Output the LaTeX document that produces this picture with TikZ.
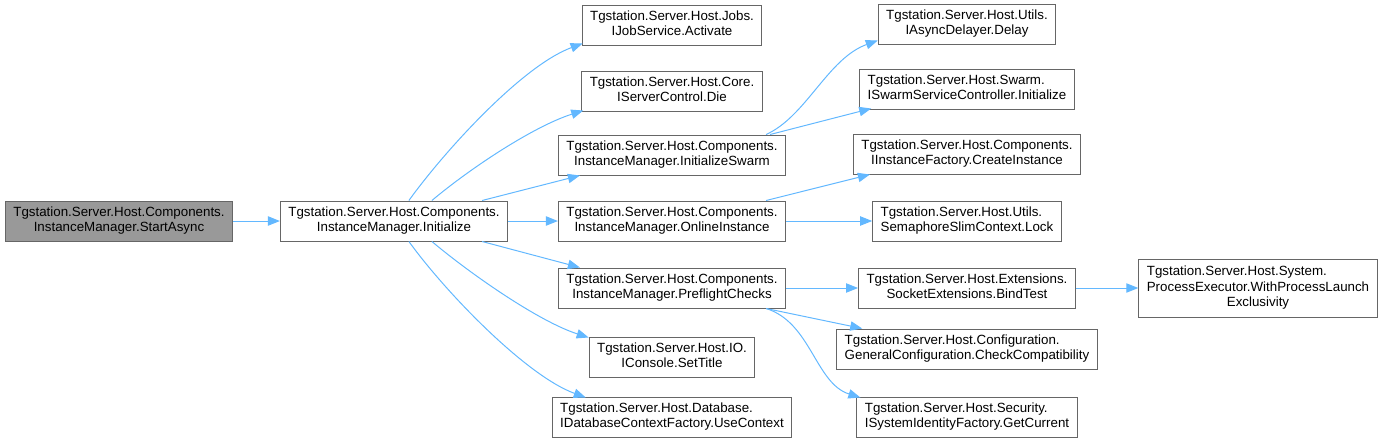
\documentclass[tikz,border=0pt]{standalone}
\usepackage{fontspec}
\setmainfont{Liberation Sans}
\usetikzlibrary{arrows.meta,calc}
\definecolor{edgeblue}{HTML}{63B8FF}
\definecolor{boxgray}{HTML}{666666}
\definecolor{startgray}{HTML}{999999}
\newcommand{\twol}[2]{\begin{tabular}{@{}c@{}}\multicolumn{1}{@{}l@{}}{#1}\\#2\end{tabular}}
\newcommand{\threel}[3]{\begin{tabular}{@{}c@{}}\multicolumn{1}{@{}l@{}}{#1}\\\multicolumn{1}{@{}l@{}}{#2}\\#3\end{tabular}}
\tikzset{
  box/.style={draw=boxgray, fill=white, line width=0.75pt, inner xsep=6pt, inner ysep=0pt,
    minimum height=30pt, font=\fontsize{10}{11.5}\selectfont},
  edge/.style={draw=edgeblue, line width=0.75pt, -{Triangle[length=9pt,width=7pt]}}
}
\begin{document}
\begin{tikzpicture}[x=0.75pt,y=-0.75pt]
\useasboundingbox (0,0) rectangle (1388,443);
% column 0 and 1
\node[box, fill=startgray] (sa) at (119,221) {\twol{Tgstation.Server.Host.Components.}{InstanceManager.StartAsync}};
\node[box] (ini) at (394,221) {\twol{Tgstation.Server.Host.Components.}{InstanceManager.Initialize}};
% column 2
\node[box] (act) at (672,25) {\twol{Tgstation.Server.Host.Jobs.}{IJobService.Activate}};
\node[box] (die) at (672,91) {\twol{Tgstation.Server.Host.Core.}{IServerControl.Die}};
\node[box] (isw) at (672,155) {\twol{Tgstation.Server.Host.Components.}{InstanceManager.InitializeSwarm}};
\node[box] (onl) at (672,221) {\twol{Tgstation.Server.Host.Components.}{InstanceManager.OnlineInstance}};
\node[box] (pre) at (672,288) {\twol{Tgstation.Server.Host.Components.}{InstanceManager.PreflightChecks}};
\node[box] (set) at (672,357) {\twol{Tgstation.Server.Host.IO.}{IConsole.SetTitle}};
\node[box] (use) at (672,417) {\twol{Tgstation.Server.Host.Database.}{IDatabaseContextFactory.UseContext}};
% column 3
\node[box] (del) at (967,24) {\twol{Tgstation.Server.Host.Utils.}{IAsyncDelayer.Delay}};
\node[box] (ssc) at (967,89) {\twol{Tgstation.Server.Host.Swarm.}{ISwarmServiceController.Initialize}};
\node[box] (cin) at (967,154) {\twol{Tgstation.Server.Host.Components.}{IInstanceFactory.CreateInstance}};
\node[box] (lck) at (967,221) {\twol{Tgstation.Server.Host.Utils.}{SemaphoreSlimContext.Lock}};
\node[box] (bnd) at (967,288) {\twol{Tgstation.Server.Host.Extensions.}{SocketExtensions.BindTest}};
\node[box] (chk) at (967,349) {\twol{Tgstation.Server.Host.Configuration.}{GeneralConfiguration.CheckCompatibility}};
\node[box] (cur) at (967,417) {\twol{Tgstation.Server.Host.Security.}{ISystemIdentityFactory.GetCurrent}};
% column 4
\node[box, minimum height=43.5pt] (wpl) at (1258,288) {\threel{Tgstation.Server.Host.System.}{ProcessExecutor.WithProcessLaunch}{Exclusivity}};

% edges
\draw[edge] (sa.east) -- (ini.west);
\draw[edge] ($(ini.north west)+(129,0)$) .. controls +(36,-50) and +(-60,22) .. ($(act.south west)+(1,-2)$);
\draw[edge] ($(ini.north west)+(152,0)$) .. controls +(38,-32) and +(-50,16) .. ($(die.south west)+(2,-1)$);
\draw[edge] ($(ini.north east)+(-26,0)$) -- ($(isw.south west)+(22,0)$);
\draw[edge] (ini.east) -- (onl.west);
\draw[edge] ($(ini.south east)+(-26,0)$) -- ($(pre.north west)+(22,0)$);
\draw[edge] ($(ini.south west)+(152,0)$) .. controls +(38,32) and +(-50,-16) .. ($(set.north west)+(0,1)$);
\draw[edge] ($(ini.south west)+(129,0)$) .. controls +(36,50) and +(-60,-22) .. ($(use.north west)+(34,1)$);

\draw[edge] ($(isw.north east)+(-20,0)$) .. controls +(40,-18) and +(-50,18) .. ($(del.south west)+(0,-4)$);
\draw[edge] ($(isw.north east)+(-16,0)$) -- ($(ssc.south west)+(12,-1)$);
\draw[edge] ($(onl.north east)+(-20,0)$) -- ($(cin.south west)+(17,0)$);
\draw[edge] (onl.east) -- (lck.west);
\draw[edge] (pre.east) -- (bnd.west);
\draw[edge] ($(pre.south east)+(-20,0)$) -- ($(chk.north west)+(26,0)$);
\draw[edge] ($(pre.south east)+(-20,0)$) .. controls +(45,14) and +(-45,-14) .. ($(cur.north west)+(4,1)$);
\draw[edge] (bnd.east) -- (wpl.west);
\end{tikzpicture}
\end{document}
